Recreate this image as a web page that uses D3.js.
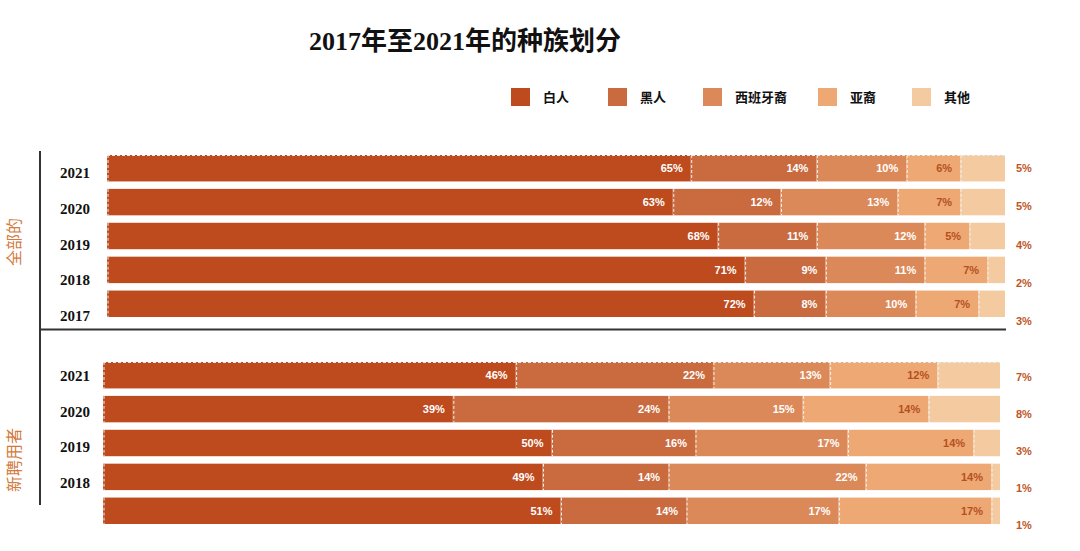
<!DOCTYPE html>
<html><head><meta charset="utf-8">
<script src="https://cdn.jsdelivr.net/npm/d3@7"></script>
<style>body{margin:0;background:#fff}svg{display:block}</style>
</head><body>
<script>
const categories = ["白人","黑人","西班牙\u88D4","亚\u88D4","其他"];
const colors = ["#BE4B1E","#C96A3F","#DB8958","#EEA873","#F4CAA0"];
const groupNames = ["全部的","新聘用者"];
const overallYears = ["2021","2020","2019","2018","2017"];
const overallWhite = [65,63,68,71,72];
const overallBlack = [14,12,11,9,8];
const overallHisp  = [10,13,12,11,10];
const overallAsian = [6,7,5,7,7];
const overallOther = [5,5,4,2,3];
const hireYears = ["2021","2020","2019","2018",""];
const hireWhite = [46,39,50,49,51];
const hireBlack = [22,24,16,14,14];
const hireHisp  = [13,15,17,22,17];
const hireAsian = [12,14,14,14,17];
const hireOther = [7,8,3,1,1];

const W=1080,H=551;
const svg=d3.select("body").append("svg").attr("width",W).attr("height",H);
const serif='"Liberation Serif","DejaVu Serif","Noto Sans CJK SC",serif';
const sans='"Liberation Sans","Noto Sans CJK SC",sans-serif';

svg.append("text").attr("x",465).attr("y",50).attr("text-anchor","middle")
  .attr("font-family",serif).attr("font-weight","bold").attr("font-size",26).attr("fill","#111")
  .text("2017年至2021年的种族划分");

// legend
const legX=[511,608,703,818,912];
categories.forEach((c,i)=>{
  svg.append("rect").attr("x",legX[i]).attr("y",88).attr("width",19).attr("height",18).attr("fill",colors[i]);
  svg.append("text").attr("x",legX[i]+32).attr("y",102).attr("font-family",sans).attr("font-weight","bold")
    .attr("font-size",13).attr("fill","#111").text(c);
});

function drawGroup(cfg){
  const rows=cfg.years.map((y,i)=>({year:y,vals:cfg.series.map(s=>s[i])}));
  const x=d3.scaleLinear().domain([0,100]).range([cfg.x0,cfg.x1]);
  const y=d3.scaleBand().domain(d3.range(rows.length)).range([cfg.y0,cfg.y1]).paddingInner(0.22).paddingOuter(0);
  const yl=d3.scaleLinear().domain([0,rows.length-1]).range(cfg.yearLab);
  const yr=d3.scaleLinear().domain([0,rows.length-1]).range(cfg.rightLab);
  const g=svg.append("g");
  rows.forEach((r,i)=>{
    let cum=0;
    const segs=r.vals.map((v,k)=>{const s={k,v,a:cum,b:cum+v};cum+=v;return s;});
    g.selectAll(null).data(segs).enter().append("rect")
      .attr("x",d=>x(d.a)).attr("y",y(i)).attr("width",d=>x(d.b)-x(d.a)).attr("height",y.bandwidth())
      .attr("fill",d=>colors[d.k]);
    g.selectAll(null).data(segs).enter().append("line")
      .attr("x1",d=>x(d.a)+1).attr("x2",d=>x(d.a)+1).attr("y1",y(i)).attr("y2",y(i)+y.bandwidth())
      .attr("stroke","#f2f2f2").attr("stroke-width",1).attr("stroke-dasharray","3,2");
    if(i===0){
      g.append("line").attr("x1",x(0)).attr("x2",x(100)).attr("y1",y(i)+0.5).attr("y2",y(i)+0.5)
        .attr("stroke","#e8e8e8").attr("stroke-dasharray","3,2");
    }
    g.selectAll(null).data(segs.filter(d=>d.k<4)).enter().append("text")
      .attr("x",d=>x(d.b)-8).attr("y",y(i)+y.bandwidth()/2+4).attr("text-anchor","end")
      .attr("font-family",sans).attr("font-weight","bold").attr("font-size",11)
      .attr("fill",d=>d.k<3?"#fff":"#B5501F").text(d=>d.v+"%");
    g.append("text").attr("x",1016).attr("y",yr(i)+4).attr("font-family",sans).attr("font-weight","bold")
      .attr("font-size",11).attr("fill","#C0561F").text(r.vals[4]+"%");
    g.append("text").attr("x",75).attr("y",yl(i)+6).attr("text-anchor","middle").attr("font-family",serif)
      .attr("font-weight","bold").attr("font-size",15).attr("fill","#111").text(r.year);
  });
  g.append("line").attr("x1",40).attr("x2",40).attr("y1",cfg.lineY0).attr("y2",cfg.lineY1)
    .attr("stroke","#333").attr("stroke-width",2);
  g.append("text").attr("transform",`translate(20,${cfg.labelY}) rotate(-90)`).attr("text-anchor","middle")
    .attr("font-family",sans).attr("font-size",16).attr("fill","#D27B3E").text(cfg.name);
}

drawGroup({name:groupNames[0],years:overallYears,
  series:[overallWhite,overallBlack,overallHisp,overallAsian,overallOther],
  x0:107,x1:1005,y0:155,y1:317,yearLab:[172,315],rightLab:[168,321],lineY0:151,lineY1:330,labelY:242});
drawGroup({name:groupNames[1],years:hireYears,
  series:[hireWhite,hireBlack,hireHisp,hireAsian,hireOther],
  x0:103,x1:1000,y0:362,y1:524,yearLab:[375,517],rightLab:[377,525],lineY0:330,lineY1:505,labelY:460});
svg.append("line").attr("x1",40).attr("x2",1006).attr("y1",329.5).attr("y2",329.5).attr("stroke","#333").attr("stroke-width",2);
</script>
</body></html>
